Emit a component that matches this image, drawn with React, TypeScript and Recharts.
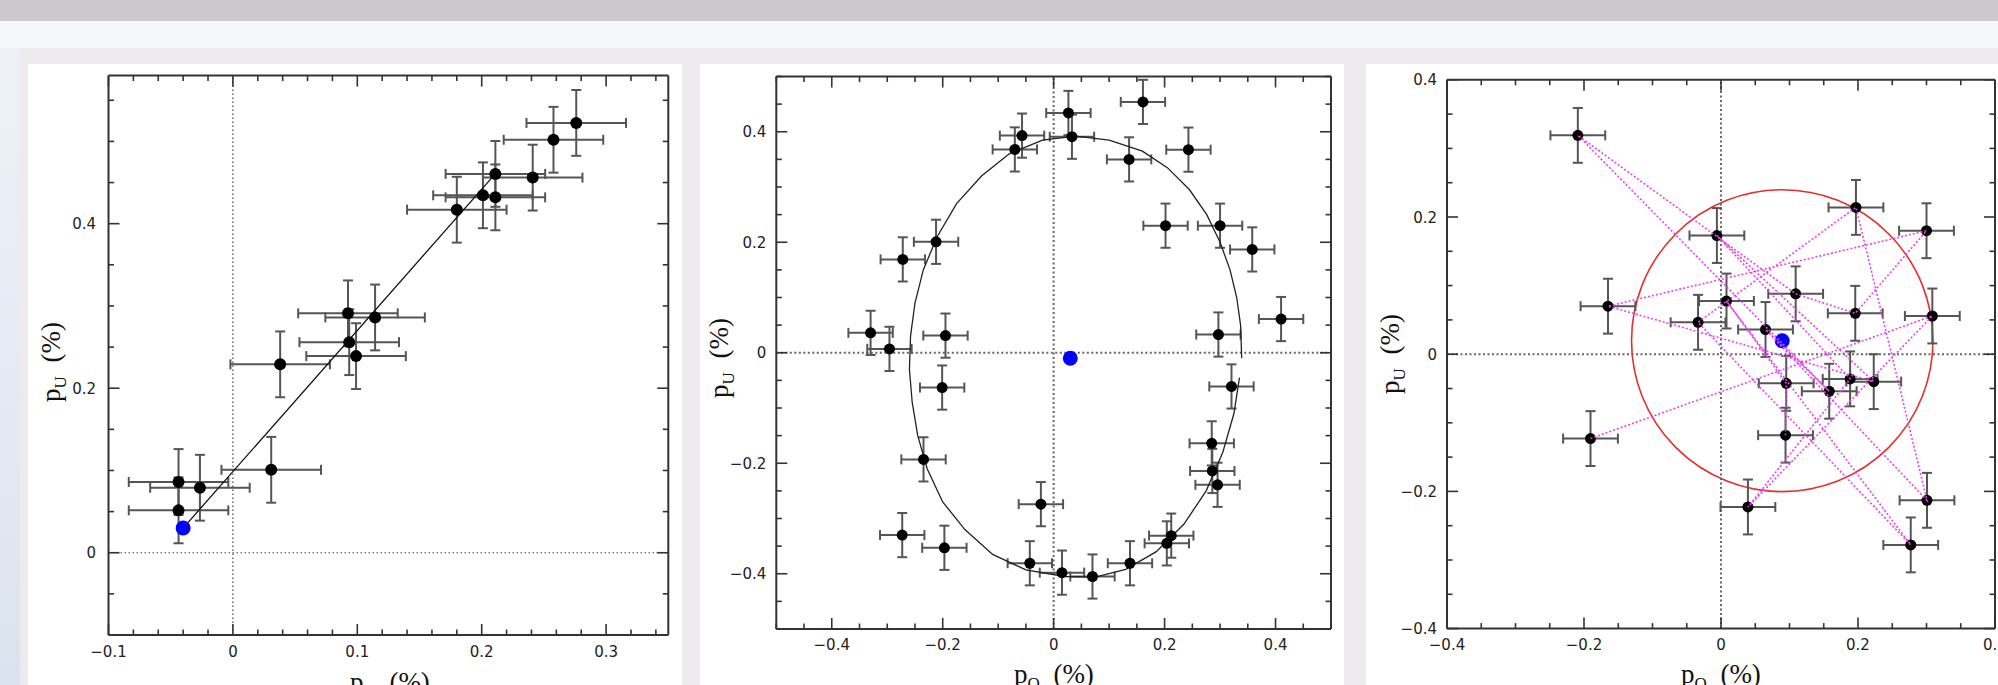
import React from 'react';
import { ScatterChart, Scatter, XAxis, YAxis, ErrorBar, ReferenceLine, ReferenceArea } from 'recharts';

// ---- panel 1 : p_U against p_Q with the fitted line
const p1Q = [-0.0437, -0.0437, -0.0265, 0.0308, 0.038, 0.0925, 0.0935, 0.099, 0.1143, 0.18, 0.201, 0.211, 0.211, 0.241, 0.2577, 0.276];
const p1U = [0.086, 0.0515, 0.079, 0.1008, 0.229, 0.291, 0.256, 0.239, 0.286, 0.417, 0.4345, 0.432, 0.4605, 0.456, 0.502, 0.5225];
const p1ErrQ = [0.04, 0.04, 0.04, 0.04, 0.04, 0.04, 0.04, 0.04, 0.04, 0.04, 0.04, 0.04, 0.04, 0.04, 0.04, 0.04];
const p1ErrU = [0.04, 0.04, 0.04, 0.04, 0.04, 0.04, 0.04, 0.04, 0.04, 0.04, 0.04, 0.04, 0.04, 0.04, 0.04, 0.04];
const p1BlueQ = [-0.04];
const p1BlueU = [0.03];
const p1FitQ = [-0.04, 0.21];
const p1FitU = [0.03, 0.459];
const p1XTicks = [-0.1, -0.08, -0.06, -0.04, -0.02, 0, 0.02, 0.04, 0.06, 0.08, 0.1, 0.12, 0.14, 0.16, 0.18, 0.2, 0.22, 0.24, 0.26, 0.28, 0.3, 0.32, 0.34];
const p1YTicks = [-0.1, -0.05, 0, 0.05, 0.1, 0.15, 0.2, 0.25, 0.3, 0.35, 0.4, 0.45, 0.5, 0.55];
const p1XLabels = [-0.1, 0, 0.1, 0.2, 0.3];
const p1YLabels = [0, 0.2, 0.4];

// ---- panel 2 : points round the ellipse
const p2Q = [0.0266, 0.033, -0.057, -0.07, 0.161, 0.243, 0.136, 0.2017, 0.3, 0.358, 0.41, 0.297, 0.3206, 0.285, 0.286, 0.2955, 0.212, 0.204, 0.1376, 0.07, 0.015, -0.043, -0.023, -0.273, -0.197, -0.2346, -0.201, -0.195, -0.33, -0.296, -0.272, -0.212];
const p2U = [0.434, 0.391, 0.393, 0.368, 0.454, 0.3676, 0.35, 0.23, 0.23, 0.187, 0.061, 0.033, -0.061, -0.164, -0.214, -0.239, -0.331, -0.345, -0.381, -0.405, -0.398, -0.381, -0.274, -0.33, -0.353, -0.193, -0.063, 0.031, 0.036, 0.007, 0.169, 0.2008];
const p2ErrQ = [0.04, 0.04, 0.04, 0.04, 0.04, 0.04, 0.04, 0.04, 0.04, 0.04, 0.04, 0.04, 0.04, 0.04, 0.04, 0.04, 0.04, 0.04, 0.04, 0.04, 0.04, 0.04, 0.04, 0.04, 0.04, 0.04, 0.04, 0.04, 0.04, 0.04, 0.04, 0.04];
const p2ErrU = [0.04, 0.04, 0.04, 0.04, 0.04, 0.04, 0.04, 0.04, 0.04, 0.04, 0.04, 0.04, 0.04, 0.04, 0.04, 0.04, 0.04, 0.04, 0.04, 0.04, 0.04, 0.04, 0.04, 0.04, 0.04, 0.04, 0.04, 0.04, 0.04, 0.04, 0.04, 0.04];
const p2BlueQ = [0.03];
const p2BlueU = [-0.01];
// ellipse (open polyline, small gap on the right)
const p2EllQ = [0.339, 0.337, 0.33, 0.318, 0.3, 0.276, 0.245, 0.205, 0.16, 0.1, 0.04, -0.02, -0.08, -0.13, -0.175, -0.21, -0.235, -0.25, -0.258, -0.26, -0.255, -0.245, -0.228, -0.2, -0.16, -0.11, -0.05, 0.02, 0.075, 0.13, 0.185, 0.235, 0.275, 0.305, 0.325, 0.335];
const p2EllU = [-0.01, 0.05, 0.1, 0.15, 0.2, 0.25, 0.295, 0.335, 0.365, 0.385, 0.392, 0.385, 0.36, 0.32, 0.27, 0.21, 0.15, 0.09, 0.03, -0.03, -0.09, -0.15, -0.21, -0.27, -0.32, -0.365, -0.393, -0.405, -0.406, -0.392, -0.36, -0.31, -0.25, -0.18, -0.11, -0.045];
const p2Ticks = [-0.5, -0.45, -0.4, -0.35, -0.3, -0.25, -0.2, -0.15, -0.1, -0.05, 0, 0.05, 0.1, 0.15, 0.2, 0.25, 0.3, 0.35, 0.4, 0.45, 0.5];
const p2Labels = [-0.4, -0.2, 0, 0.2, 0.4];

// ---- panel 3 : residuals, circle and dotted links
const p3Names = ['A', 'B', 'C', 'D', 'E', 'F', 'G', 'H', 'I', 'J', 'K', 'L', 'M', 'N', 'O', 'P', 'Q', 'R', 'S', 'T'];
const p3Q = [-0.209, -0.006, 0.197, 0.3, -0.165, 0.008, -0.0335, 0.109, 0.065, 0.196, 0.3085, 0.0952, 0.158, 0.1885, 0.223, 0.0942, -0.1905, 0.0393, 0.3007, 0.277];
const p3U = [0.319, 0.173, 0.214, 0.18, 0.07, 0.0775, 0.0465, 0.088, 0.036, 0.0596, 0.0557, -0.0425, -0.054, -0.036, -0.04, -0.118, -0.123, -0.2227, -0.213, -0.278];
const p3ErrQ = [0.04, 0.04, 0.04, 0.04, 0.04, 0.04, 0.04, 0.04, 0.04, 0.04, 0.04, 0.04, 0.04, 0.04, 0.04, 0.04, 0.04, 0.04, 0.04, 0.04];
const p3ErrU = [0.04, 0.04, 0.04, 0.04, 0.04, 0.04, 0.04, 0.04, 0.04, 0.04, 0.04, 0.04, 0.04, 0.04, 0.04, 0.04, 0.04, 0.04, 0.04, 0.04];
const p3Order = ['Q', 'K', 'R', 'N', 'B', 'O', 'E', 'D', 'J', 'H', 'A', 'M', 'I', 'S', 'C', 'G', 'T', 'F', 'L', 'P'];
const p3BlueQ = [0.0894];
const p3BlueU = [0.0197];
const p3CircleR = [0.22];
const p3Ticks = [-0.4, -0.35, -0.3, -0.25, -0.2, -0.15, -0.1, -0.05, 0, 0.05, 0.1, 0.15, 0.2, 0.25, 0.3, 0.35, 0.4];
const p3Labels = [-0.4, -0.2, 0, 0.2, 0.4];

const FRAME = '#333';
const ERRC = '#555';
const TICKFONT = '"DejaVu Sans", sans-serif';
const TITLEFONT = '"Liberation Serif", "DejaVu Serif", serif';

const pts = (q: number[], u: number[], eq?: number[], eu?: number[]) =>
  q.map((x, i) => ({ x, y: u[i], ex: eq ? eq[i] : 0, ey: eu ? eu[i] : 0 }));

const fmt = (v: number) => (Math.abs(v) < 1e-9 ? '0' : (v < 0 ? '\u2212' : '') + String(Math.abs(v)));

function FrameTick(props: any) {
  const { x, y, payload, side, labels, gap } = props;
  const v = payload.value;
  const major = labels.some((m: number) => Math.abs(m - v) < 1e-9);
  const len = major ? 11 : 5.5;
  let x2 = x;
  let y2 = y;
  if (side === 'b') y2 = y - len;
  if (side === 't') y2 = y + len;
  if (side === 'l') x2 = x + len;
  if (side === 'r') x2 = x - len;
  return (
    <g>
      <line x1={x} y1={y} x2={x2} y2={y2} stroke={FRAME} strokeWidth={1.6} />
      {major && side === 'b' && (
        <text x={x} y={y + gap} textAnchor="middle" fontFamily={TICKFONT} fontSize={15} fill="#222">{fmt(v)}</text>
      )}
      {major && side === 'l' && (
        <text x={x - gap} y={y + 5.5} textAnchor="end" fontFamily={TICKFONT} fontSize={15} fill="#222">{fmt(v)}</text>
      )}
    </g>
  );
}

// bottom/left axes carry the labels, top/right axes only mirror the frame and ticks
function frameAxes(xDom: number[], yDom: number[], xTicks: number[], yTicks: number[], xLab: number[], yLab: number[], gapB: number, gapL: number) {
  const axisLine = { stroke: FRAME, strokeWidth: 2 };
  const common = { type: 'number' as const, allowDataOverflow: true, interval: 0 as const, tickSize: 0, tickMargin: 0, tickLine: false, axisLine };
  return [
    <XAxis key="xb" xAxisId="b" dataKey="x" domain={xDom} ticks={xTicks} height={40} {...common}
      tick={(p: any) => <FrameTick {...p} side="b" labels={xLab} gap={gapB} />} />,
    <XAxis key="xt" xAxisId="t" dataKey="x" orientation="top" domain={xDom} ticks={xTicks} height={2} {...common}
      tick={(p: any) => <FrameTick {...p} side="t" labels={xLab} gap={0} />} />,
    <YAxis key="yl" yAxisId="l" dataKey="y" domain={yDom} ticks={yTicks} width={60} {...common}
      tick={(p: any) => <FrameTick {...p} side="l" labels={yLab} gap={gapL} />} />,
    <YAxis key="yr" yAxisId="r" dataKey="y" orientation="right" domain={yDom} ticks={yTicks} width={2} {...common}
      tick={(p: any) => <FrameTick {...p} side="r" labels={yLab} gap={0} />} />,
  ];
}

const blackDot = (r: number) => (p: any) => <circle cx={p.cx} cy={p.cy} r={r} fill="#000" />;
const blueDot = (p: any) => <circle cx={p.cx} cy={p.cy} r={7.5} fill="#0000ff" />;
const noDot = () => <g />;

// invisible series on the top/right axes so that the mirror frame is drawn
function mirrorSeries(data: { x: number; y: number }[]) {
  return <Scatter xAxisId="t" yAxisId="r" data={data} shape={noDot} isAnimationActive={false} />;
}

function errBars() {
  return [
    <ErrorBar key="ex" dataKey="ex" direction="x" width={5} stroke={ERRC} strokeWidth={2} />,
    <ErrorBar key="ey" dataKey="ey" direction="y" width={5} stroke={ERRC} strokeWidth={2} />,
  ];
}

function zeroLines(stroke: string, w: number, dash: string) {
  return [
    <ReferenceLine key="zx" xAxisId="b" yAxisId="l" x={0} stroke={stroke} strokeWidth={w} strokeDasharray={dash} />,
    <ReferenceLine key="zy" xAxisId="b" yAxisId="l" y={0} stroke={stroke} strokeWidth={w} strokeDasharray={dash} />,
  ];
}

function CircleShape(props: any) {
  const { x, y, width, height } = props;
  return (
    <ellipse cx={x + width / 2} cy={y + height / 2} rx={Math.abs(width) / 2} ry={Math.abs(height) / 2}
      fill="none" stroke="#e3302c" strokeWidth={1.6} />
  );
}

function Panel1() {
  const data = pts(p1Q, p1U, p1ErrQ, p1ErrU);
  return (
    <ScatterChart width={654} height={621} margin={{ top: 9.6, right: 11.7, bottom: 10, left: 20.5 }}>
      {frameAxes([-0.1, 0.35], [-0.1, 0.58], p1XTicks, p1YTicks, p1XLabels, p1YLabels, 22, 12.5)}
      {zeroLines('#444', 1.2, '1.5 2.5')}
      {mirrorSeries(data)}
      <Scatter xAxisId="b" yAxisId="l" data={pts(p1FitQ, p1FitU)} line={{ stroke: '#111', strokeWidth: 1.3 }} shape={noDot} isAnimationActive={false} />
      <Scatter xAxisId="b" yAxisId="l" data={data} shape={blackDot(6)} isAnimationActive={false}>
        {errBars()}
      </Scatter>
      <Scatter xAxisId="b" yAxisId="l" data={pts(p1BlueQ, p1BlueU)} shape={blueDot} isAnimationActive={false} />
    </ScatterChart>
  );
}

function Panel2() {
  const data = pts(p2Q, p2U, p2ErrQ, p2ErrU);
  return (
    <ScatterChart width={644} height={621} margin={{ top: 10.5, right: 11, bottom: 16, left: 16.3 }}>
      {frameAxes([-0.5, 0.5], [-0.5, 0.5], p2Ticks, p2Ticks, p2Labels, p2Labels, 21, 10)}
      {zeroLines('#666', 2, '2 2.5')}
      {mirrorSeries(data)}
      <Scatter xAxisId="b" yAxisId="l" data={pts(p2EllQ, p2EllU)} line={{ stroke: '#222', strokeWidth: 1.3 }} shape={noDot} isAnimationActive={false} />
      <Scatter xAxisId="b" yAxisId="l" data={data} shape={blackDot(5.5)} isAnimationActive={false}>
        {errBars()}
      </Scatter>
      <Scatter xAxisId="b" yAxisId="l" data={pts(p2BlueQ, p2BlueU)} shape={blueDot} isAnimationActive={false} />
    </ScatterChart>
  );
}

function Panel3() {
  const data = pts(p3Q, p3U, p3ErrQ, p3ErrU);
  const links = p3Order.map((n) => {
    const i = p3Names.indexOf(n);
    return { x: p3Q[i], y: p3U[i] };
  });
  const cq = p3BlueQ[0];
  const cu = p3BlueU[0];
  const r = p3CircleR[0];
  return (
    <ScatterChart width={632} height={621} margin={{ top: 13.8, right: 1, bottom: 16.4, left: 21 }}>
      {frameAxes([-0.4, 0.4], [-0.4, 0.4], p3Ticks, p3Ticks, p3Labels, p3Labels, 21.3, 10)}
      {zeroLines('#666', 2, '2 2.5')}
      {mirrorSeries(data)}
      <ReferenceArea xAxisId="b" yAxisId="l" x1={cq - r} x2={cq + r} y1={cu - r} y2={cu + r} shape={CircleShape} />
      <Scatter xAxisId="b" yAxisId="l" data={data} shape={blackDot(5.5)} isAnimationActive={false}>
        {errBars()}
      </Scatter>
      <Scatter xAxisId="b" yAxisId="l" data={pts(p3BlueQ, p3BlueU)} shape={blueDot} isAnimationActive={false} />
      <Scatter xAxisId="b" yAxisId="l" data={links} line={{ stroke: '#ee3fee', strokeWidth: 1.6, strokeDasharray: '2 2' }} shape={noDot} isAnimationActive={false} />
    </ScatterChart>
  );
}

function YTitle({ x, y }: { x: number; y: number }) {
  return (
    <text transform={`translate(${x},${y}) rotate(-90)`} textAnchor="middle" fontFamily={TITLEFONT} fontSize={27} fill="#111">
      p<tspan fontSize={17} dy={6}>U</tspan><tspan dy={-6}>{'\u2002(%)'}</tspan>
    </text>
  );
}

function XTitle({ x, y }: { x: number; y: number }) {
  return (
    <text x={x} y={y} textAnchor="middle" fontFamily={TITLEFONT} fontSize={27} fill="#111">
      p<tspan fontSize={17} dy={6}>Q</tspan><tspan dy={-6}>{'\u2002(%)'}</tspan>
    </text>
  );
}

const abs = (left: number, top: number, width: number, height: number, bg?: string): React.CSSProperties => ({
  position: 'absolute', left, top, width, height, background: bg,
});

export default function App() {
  return (
    <div style={{ position: 'absolute', left: 0, top: 0, width: 1998, height: 685, overflow: 'hidden', background: '#edebed' }}>
      <div style={abs(0, 0, 1998, 21, '#cdc8cc')} />
      <div style={abs(0, 21, 1998, 27, '#f4f6fa')} />
      <div style={abs(0, 48, 20, 637, 'linear-gradient(#eef2f8, #dbe3f0)')} />
      <div style={abs(28, 64, 654, 621, '#fff')} />
      <div style={abs(700, 64, 644, 621, '#fff')} />
      <div style={abs(1366, 64, 632, 621, '#fff')} />
      <div style={abs(28, 64, 654, 621)}><Panel1 /></div>
      <div style={abs(700, 64, 644, 621)}><Panel2 /></div>
      <div style={abs(1366, 64, 632, 621)}><Panel3 /></div>
      <svg width={1998} height={685} style={{ position: 'absolute', left: 0, top: 0, pointerEvents: 'none' }}>
        <YTitle x={60} y={362} />
        <YTitle x={728} y={358} />
        <YTitle x={1399} y={354} />
        <XTitle x={390} y={691} />
        <XTitle x={1054} y={683} />
        <XTitle x={1721} y={683} />
      </svg>
    </div>
  );
}
